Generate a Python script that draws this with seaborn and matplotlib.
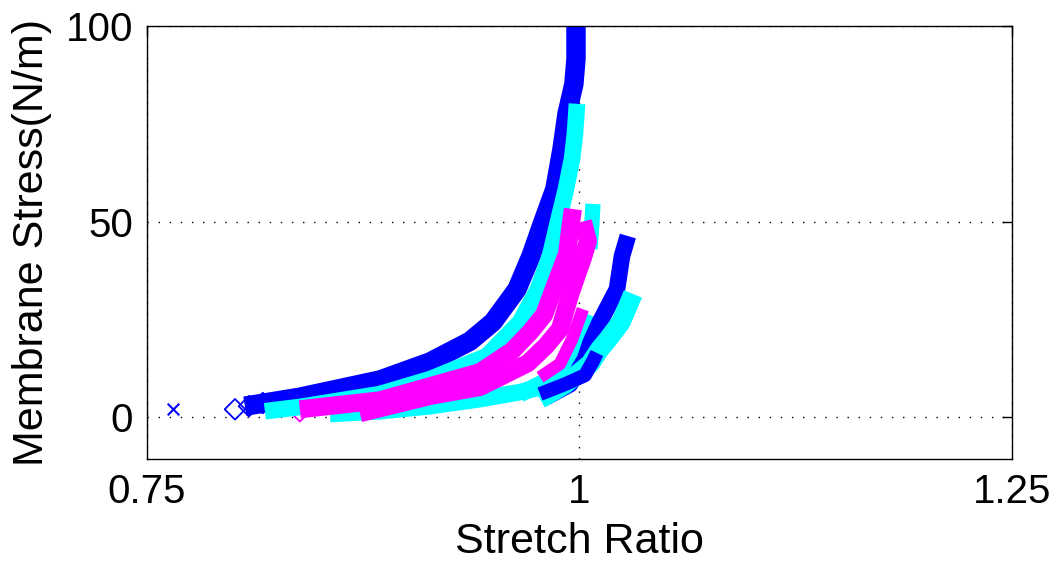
import matplotlib
matplotlib.use("Agg")
import matplotlib.pyplot as plt
import seaborn as sns

# ── Data (stretch ratio vs membrane stress, N/m) ─────────────────────────────
BLUE_MAIN_X = [0.8066, 0.8384, 0.8847, 0.9136, 0.9367, 0.9500, 0.9639, 0.9720,
               0.9789, 0.9858, 0.9899, 0.9928, 0.9968, 0.9980, 0.9980]
BLUE_MAIN_Y = [2.8, 5.1, 9.5, 14.1, 19.4, 24.3, 32.7, 41.2,
               49.9, 58.3, 68.5, 77.5, 85.2, 91.6, 100.0]

CYAN_MAIN_X = [0.8182, 0.8384, 0.8847, 0.9136, 0.9465, 0.9656, 0.9760, 0.9830,
               0.9876, 0.9922, 0.9957, 0.9974, 0.9986]
CYAN_MAIN_Y = [1.5, 2.6, 5.9, 9.7, 15.6, 24.3, 32.7, 41.2, 49.9, 58.3, 66.0,
               72.4, 80.1]

CYAN_LOW_X = [0.8558, 0.8847, 0.9136, 0.9425, 0.9656, 0.9801, 0.9916]
CYAN_LOW_Y = [0.8, 1.5, 2.8, 4.6, 6.4, 7.9, 9.7]

CYAN_MID_X = [0.9656, 0.9829, 0.9934, 1.0003, 1.0049]
CYAN_MID_Y = [5.9, 9.7, 14.8, 21.2, 26.3]

CYAN_TOP_X = [1.0061, 1.0072, 1.0078]
CYAN_TOP_Y = [43.0, 49.4, 54.5]

MAGENTA_A_X = [0.8384, 0.8847, 0.9136, 0.9425, 0.9610, 0.9714, 0.9795, 0.9858,
               0.9928, 0.9950, 0.9962]
MAGENTA_A_Y = [2.0, 4.3, 7.9, 11.5, 16.9, 21.7, 26.1, 33.5, 41.7, 49.4, 53.2]

MAGENTA_B_X = [0.8731, 0.9136, 0.9425, 0.9702, 0.9806, 0.9887, 0.9951, 1.0020,
               1.0049, 1.0020]
MAGENTA_B_Y = [1.0, 5.4, 7.7, 13.8, 18.2, 22.5, 32.0, 40.7, 45.0, 50.0]

MAGENTA_STREAK_X = [0.9772, 0.9887, 0.9957, 1.0020]
MAGENTA_STREAK_Y = [10.2, 13.6, 19.9, 27.6]

BLUE_RIGHT_X = [0.9806, 0.9945, 1.0032, 1.0066, 1.0118, 1.0217, 1.0246, 1.0280]
BLUE_RIGHT_Y = [5.1, 8.4, 14.8, 19.2, 24.3, 32.7, 41.2, 46.3]

CYAN_RIGHT_X = [0.9772, 0.9916, 1.0061, 1.0118, 1.0165, 1.0240, 1.0280, 1.0309]
CYAN_RIGHT_Y = [4.6, 8.4, 13.6, 17.4, 19.9, 24.3, 28.4, 31.5]

BLUE_SMALL_X = [0.9772, 0.9916, 1.0032, 1.0078, 1.0101]
BLUE_SMALL_Y = [5.9, 8.4, 10.7, 14.3, 16.4]

# loose markers at the low-stretch tail
TAIL_X = [0.7650, 0.8009, 0.8090, 0.8170, 0.8384, 0.8483]
TAIL_Y = [2.2, 2.0, 2.8, 3.6, 1.5, 3.3]
TAIL_COLOR = ["#0000FF", "#0000FF", "#0000FF", "#0000FF", "#FF00FF", "#FF00FF"]
TAIL_MARKER = ["x", "D", "D", "D", "D", "D"]

XTICKS = [0.75, 1, 1.25]
XTICKLABELS = ["0.75", "1", "1.25"]
YTICKS = [0, 50, 100]

BLUE = "#0000FF"
CYAN = "#00FFFF"
MAGENTA = "#FF00FF"

sns.set_style("white")
plt.rcParams["font.family"] = ["Liberation Sans", "DejaVu Sans"]
plt.rcParams["text.color"] = "black"

fig = plt.figure(figsize=(10.57, 5.62), dpi=100)
ax = fig.add_axes([0.139, 0.1833, 0.8184, 0.7705])


def band(xs, ys, color, lw):
    sns.lineplot(x=xs, y=ys, sort=False, estimator=None, color=color, lw=lw,
                 solid_capstyle="butt", solid_joinstyle="round", ax=ax)


band(CYAN_LOW_X, CYAN_LOW_Y, CYAN, 12)
band(BLUE_MAIN_X, BLUE_MAIN_Y, BLUE, 14)
band(CYAN_MAIN_X, CYAN_MAIN_Y, CYAN, 12)
band(CYAN_TOP_X, CYAN_TOP_Y, CYAN, 11)
band(CYAN_MID_X, CYAN_MID_Y, CYAN, 12)
band(MAGENTA_A_X, MAGENTA_A_Y, MAGENTA, 13)
band(MAGENTA_B_X, MAGENTA_B_Y, MAGENTA, 13)
band(MAGENTA_STREAK_X, MAGENTA_STREAK_Y, MAGENTA, 9)
band(BLUE_RIGHT_X, BLUE_RIGHT_Y, BLUE, 12)
band(CYAN_RIGHT_X, CYAN_RIGHT_Y, CYAN, 14)
band(BLUE_SMALL_X, BLUE_SMALL_Y, BLUE, 10)

for x, y, c, m in zip(TAIL_X, TAIL_Y, TAIL_COLOR, TAIL_MARKER):
    if m == "x":
        sns.scatterplot(x=[x], y=[y], marker="x", s=70, color=c,
                        linewidth=1.5, ax=ax)
    else:
        sns.scatterplot(x=[x], y=[y], marker=m, s=110, facecolors="none",
                        edgecolors=c, linewidth=1.3, ax=ax)

ax.set_xlim(0.75, 1.25)
ax.set_ylim(-10.7, 100)
ax.set_xticks(XTICKS)
ax.set_xticklabels(XTICKLABELS)
ax.set_yticks(YTICKS)
ax.grid(True, color="black", ls=(0, (1, 7)), lw=1)
ax.set_axisbelow(True)
for s in ax.spines.values():
    s.set_visible(True)
    s.set_color("black")
    s.set_linewidth(1)
ax.tick_params(direction="in", length=7, width=1, top=True, right=True,
               labelsize=29, pad=10, colors="black")
ax.set_xlabel("Stretch Ratio", fontsize=31, labelpad=8, color="black")
ax.set_ylabel("Membrane Stress(N/m)", fontsize=31, labelpad=10, color="black")

fig.savefig("out.png", dpi=100, facecolor="white")
